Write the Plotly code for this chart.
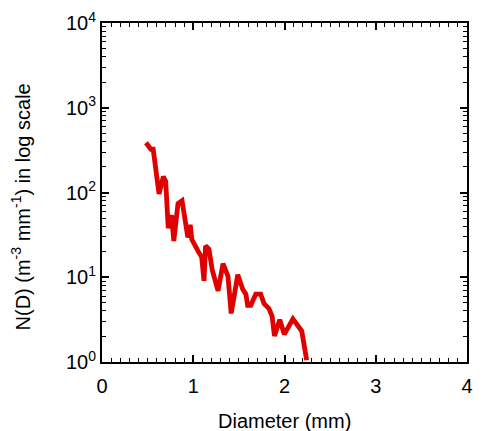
import plotly.graph_objects as go

# Data (diameter in mm, N(D) in m^-3 mm^-1)
diameter = [0.482, 0.507, 0.536, 0.561, 0.625, 0.672, 0.698, 0.726, 0.762, 0.787,
            0.833, 0.877, 0.920, 0.941, 0.967, 0.984, 1.057, 1.092, 1.118, 1.135,
            1.172, 1.208, 1.272, 1.326, 1.380, 1.416, 1.488, 1.542, 1.577, 1.596,
            1.631, 1.685, 1.739, 1.776, 1.830, 1.865, 1.890, 1.948, 1.998, 2.092,
            2.189, 2.243]
nd = [386, 348, 324, 324, 96, 154, 135, 38, 54, 26.8,
      74, 80, 45, 29.5, 41.5, 28, 19.9, 17.3, 9.06, 23.5,
      21.5, 12.2, 6.92, 14.5, 10.3, 3.74, 10.7, 7.21, 6.33, 4.67,
      4.67, 6.33, 6.33, 4.87, 4.27, 3.43, 2.03, 3.15, 2.12, 3.23,
      2.32, 1.05]

x_ticks = [0, 1, 2, 3, 4]
y_tickvals = [1, 10, 100, 1000, 10000]
y_ticktext = ["10<sup>0</sup>", "10<sup>1</sup>", "10<sup>2</sup>", "10<sup>3</sup>", "10<sup>4</sup>"]
y_minor = [m * 10 ** k for k in range(4) for m in range(2, 10)]
x_minor = [i / 10 for i in range(41) if i % 10 != 0]

x_title = "Diameter (mm)"
y_title = "N(D) (m<sup>-3</sup> mm<sup>-1</sup>) in log scale"

font_family = "Liberation Sans, Arial, sans-serif"

fig = go.Figure()
fig.add_trace(go.Scatter(
    x=diameter, y=nd, mode="lines",
    line=dict(color="#e00000", width=4.8),
    showlegend=False,
))

fig.update_layout(
    width=482, height=431,
    margin=dict(l=102, r=9, t=11, b=69),
    paper_bgcolor="white", plot_bgcolor="white",
    font=dict(family=font_family, color="black", size=20),
    xaxis=dict(
        range=[0, 4], tickvals=x_ticks, ticks="inside", ticklen=7, tickwidth=1.5,
        tickcolor="black", showline=True, linecolor="black", linewidth=2,
        mirror="allticks", showgrid=False, zeroline=False,
        ticklabelstandoff=5, ticklabeloverflow="allow",
        minor=dict(tickvals=x_minor, ticks="inside", ticklen=4, tickwidth=1.2,
                   tickcolor="black", showgrid=False),
        tickfont=dict(size=20),
    ),
    yaxis=dict(
        type="log", range=[0, 4], tickvals=y_tickvals, ticktext=y_ticktext,
        ticks="inside", ticklen=7, tickwidth=1.5, tickcolor="black",
        showline=True, linecolor="black", linewidth=2, mirror="allticks",
        showgrid=False, zeroline=False, ticklabelstandoff=0,
        ticklabeloverflow="allow",
        minor=dict(tickvals=y_minor, ticks="inside", ticklen=4, tickwidth=1.2,
                   tickcolor="black", showgrid=False),
        tickfont=dict(size=20),
    ),
    annotations=[
        dict(text=x_title, xref="paper", yref="paper", x=0.5, y=-0.175,
             xanchor="center", yanchor="middle", showarrow=False,
             font=dict(size=20)),
        dict(text=y_title, xref="paper", yref="paper", x=-0.222, y=0.4587,
             xanchor="center", yanchor="middle", showarrow=False, textangle=-90,
             font=dict(size=20)),
    ],
)

fig.write_html("out.html", config={"displayModeBar": False},
               post_script="document.body.style.margin='0px';")
